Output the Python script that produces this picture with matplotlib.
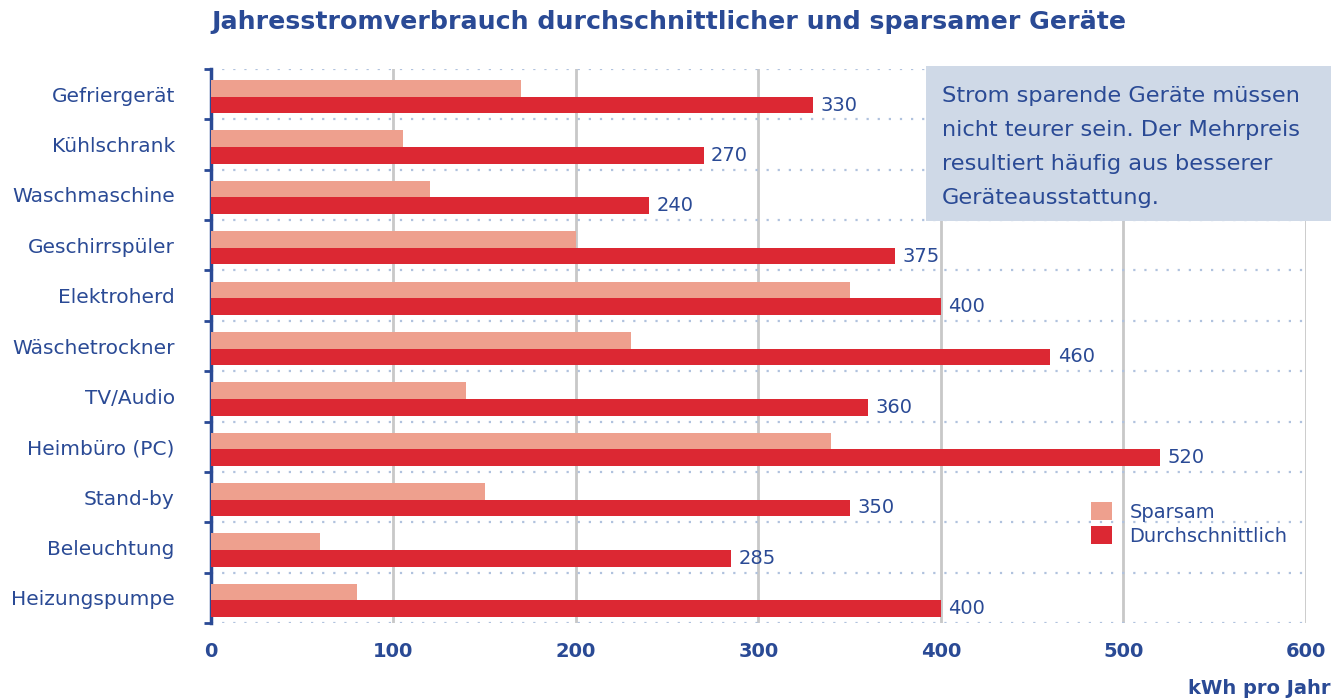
import matplotlib
matplotlib.use("Agg")
import matplotlib.pyplot as plt
from matplotlib.patches import Rectangle
import numpy as np

plt.rcParams['font.family'] = ['DejaVu Sans']

categories = ["Gefriergerät", "Kühlschrank", "Waschmaschine", "Geschirrspüler",
              "Elektroherd", "Wäschetrockner", "TV/Audio", "Heimbüro (PC)",
              "Stand-by", "Beleuchtung", "Heizungspumpe"]
sparsam = [170, 105, 120, 200, 350, 230, 140, 340, 150, 60, 80]
durchschnitt = [330, 270, 240, 375, 400, 460, 360, 520, 350, 285, 400]
xticks = [0, 100, 200, 300, 400, 500, 600]

BLUE = "#2a4a95"
LIGHT = "#eea08e"
RED = "#dc2833"

fig = plt.figure(figsize=(13.43, 7.0), dpi=100)
ax = fig.add_axes([0.1571, 0.11, 0.8153, 0.7914])

n = len(categories)
y = np.arange(n)
h = 0.33
ax.barh(y - h / 2 + 0.05, sparsam, height=h, color=LIGHT, zorder=3, label="Sparsam")
ax.barh(y + h / 2 + 0.05, durchschnitt, height=h, color=RED, zorder=3, label="Durchschnittlich")

for yi, v in zip(y, durchschnitt):
    ax.text(v + 4, yi + h / 2 + 0.05, str(v), va="center", ha="left",
            color=BLUE, fontsize=14, zorder=4)

ax.set_ylim(n - 0.5, -0.5)
ax.set_xlim(0, 600)

# vertical grid lines
for xt in xticks[1:]:
    ax.axvline(xt, color="#c8c8c8", lw=2, zorder=1)
# dotted horizontal separators
for b in np.arange(-0.5, n, 1.0):
    ax.axhline(b, color="#b0c2de", lw=1.6, ls=(0, (1, 4)), zorder=2)

ax.set_yticks(np.arange(-0.5, n, 1.0))
ax.set_yticklabels([])
ax.set_yticks(y, minor=True)
ax.set_yticklabels(categories, minor=True)
ax.tick_params(axis="y", which="major", length=5, width=2, color=BLUE, direction="out")
ax.tick_params(axis="y", which="minor", length=0, pad=26, labelsize=14.5, labelcolor=BLUE)

ax.set_xticks(xticks)
ax.set_xticklabels([str(t) for t in xticks])
ax.tick_params(axis="x", length=0, pad=14, labelsize=14, labelcolor=BLUE)
for lbl in ax.get_xticklabels():
    lbl.set_fontweight("bold")

for s in ["top", "right", "bottom"]:
    ax.spines[s].set_visible(False)
ax.spines["left"].set_color(BLUE)
ax.spines["left"].set_linewidth(2.5)

# Title
fig.text(211 / 1343, 1 - 22 / 700, "Jahresstromverbrauch durchschnittlicher und sparsamer Geräte",
         ha="left", va="center", fontsize=18.2, fontweight="bold", color=BLUE)

# axis unit label
fig.text(1331 / 1343, 1 - 688 / 700, "kWh pro Jahr", ha="right", va="center",
         fontsize=14, fontweight="bold", color=BLUE)

# info box
fig.patches.append(Rectangle((926 / 1343, 1 - 221 / 700), (1331 - 926) / 1343, (221 - 66) / 700,
                             transform=fig.transFigure, facecolor="#cfd9e7", edgecolor="none",
                             zorder=5))
box_lines = ["Strom sparende Geräte müssen", "nicht teurer sein. Der Mehrpreis",
             "resultiert häufig aus besserer", "Geräteausstattung."]
for i, line in enumerate(box_lines):
    fig.text(942 / 1343, 1 - (96 + i * 34) / 700, line, ha="left", va="center",
             fontsize=16.2, color=BLUE, zorder=6)

# legend
leg = ax.legend(loc="upper left", bbox_to_anchor=(1081 / 1343, 1 - 492 / 700),
                bbox_transform=fig.transFigure, frameon=False, fontsize=14,
                handlelength=1.1, handleheight=1.1, handletextpad=0.9, labelspacing=0.2,
                borderpad=0)
for t in leg.get_texts():
    t.set_color(BLUE)

fig.savefig("out.png", dpi=100)
